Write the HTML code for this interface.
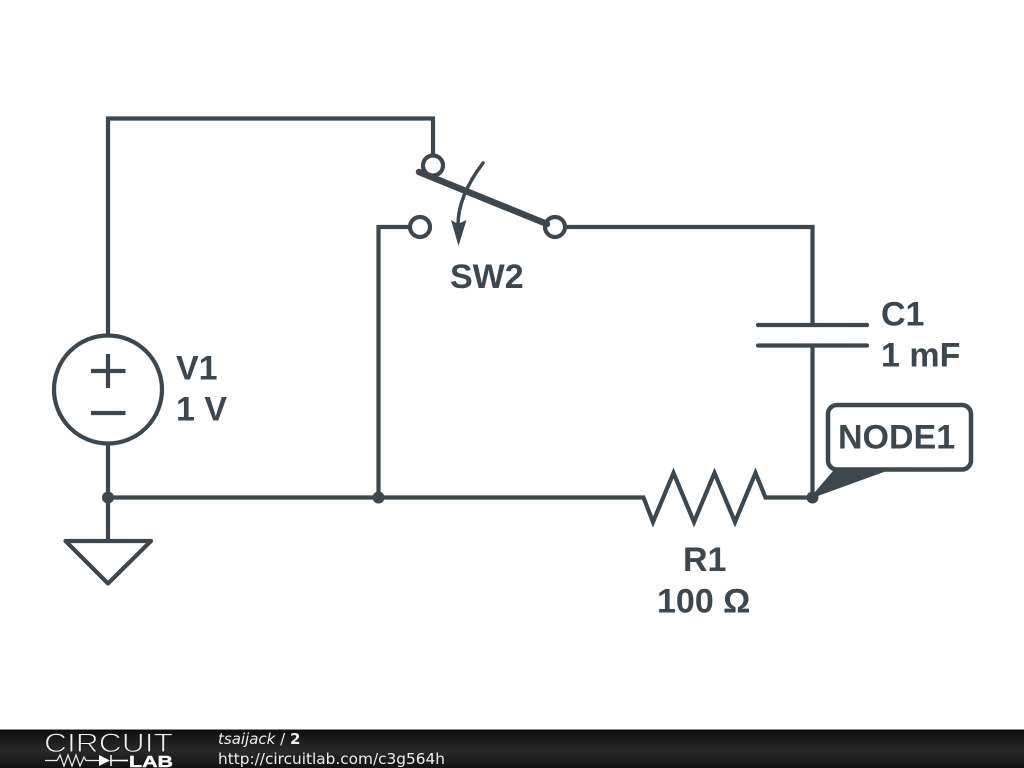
<!DOCTYPE html>
<html>
<head>
<meta charset="utf-8">
<title>Circuit diagram</title>
<style>
html,body{margin:0;padding:0;background:#fff;width:1024px;height:768px;overflow:hidden}
svg{display:block}
.w{fill:none;stroke:#3d474d;stroke-width:4.2;stroke-linejoin:miter;stroke-linecap:butt}
.t{font-family:"Liberation Sans",sans-serif;font-weight:bold;font-size:34px;fill:#3d474d}
.f{font-family:"DejaVu Sans",sans-serif;font-size:15px;fill:#eee}
</style>
</head>
<body>
<svg width="1024" height="768" viewBox="0 0 1024 768" xmlns="http://www.w3.org/2000/svg">
<defs>
<linearGradient id="bar" x1="0" y1="0" x2="0" y2="1">
<stop offset="0" stop-color="#0c0c0c"/>
<stop offset="0.55" stop-color="#2a2a2a"/>
<stop offset="1" stop-color="#111"/>
</linearGradient>
</defs>
<rect width="1024" height="768" fill="#fff"/>

<!-- wires -->
<path class="w" d="M108 335V118.500H433V155"/>
<path class="w" d="M410 227H378.500V497"/>
<path class="w" d="M565 227H812.500V325"/>
<path class="w" d="M812.500 345V497"/>
<path class="w" d="M108 444V541"/>
<path class="w" d="M108 497.500H643.500L653 522L673.500 473L694 522L714.500 473L735 522L755.500 473L765.500 497.500H812"/>

<!-- V1 -->
<circle class="w" cx="108" cy="389.500" r="54"/>
<path class="w" d="M91 371H125.500M108 354V388M91 413H125.500"/>

<!-- ground -->
<path class="w" style="stroke-linejoin:round" d="M65.500 541H151L108 583.500Z"/>

<!-- capacitor -->
<path class="w" style="stroke-linecap:round" d="M758 325H867M758 345.500H867"/>

<!-- switch -->
<circle class="w" cx="433" cy="165.500" r="10"/>
<circle class="w" cx="420" cy="227" r="10"/>
<circle class="w" cx="555" cy="227" r="10"/>
<path d="M419 172L547 224" fill="none" stroke="#3d474d" stroke-width="6.500" stroke-linecap="round"/>
<path d="M483 163Q458 196 458 225" fill="none" stroke="#3d474d" stroke-width="3.500" stroke-linecap="round"/>
<path d="M451 220L458 224L466.500 220L458.500 246Z" fill="#3d474d"/>

<!-- junctions -->
<circle cx="108" cy="497.500" r="6" fill="#3d474d"/>
<circle cx="378.500" cy="497.500" r="6" fill="#3d474d"/>
<circle cx="812.500" cy="497.500" r="6" fill="#3d474d"/>

<!-- node label -->
<path d="M812 497L836 469H889Z" fill="#3d474d" stroke="#3d474d" stroke-width="2" stroke-linejoin="round"/>
<rect x="828" y="405" width="143" height="64.500" rx="9" ry="9" fill="#fff" stroke="#3d474d" stroke-width="4.500"/>
<text class="t" x="838" y="448.500">NODE1</text>

<!-- labels -->
<text class="t" x="450" y="288">SW2</text>
<text class="t" x="176" y="379.500">V1</text>
<text class="t" x="176" y="420.500">1 V</text>
<text class="t" x="881" y="325.500">C1</text>
<text class="t" x="881" y="366.500">1 mF</text>
<text class="t" x="683" y="571">R1</text>
<text class="t" x="657" y="612.500">100 Ω</text>

<!-- footer -->
<rect x="0" y="729" width="1024" height="39" fill="url(#bar)"/>
<rect x="0" y="729" width="1024" height="1" fill="#888"/>
<text x="44" y="752" font-family="'Liberation Sans',sans-serif" font-size="26.500" fill="#f2f2f2" stroke="#1c1c1c" stroke-width="0.9" textLength="129" lengthAdjust="spacingAndGlyphs">CIRCUIT</text>
<path d="M45 760.500H57L60 755L64 766L68 755L72 766L76 755L80 766L84 757L86 760.500H99M122 760.500H128" fill="none" stroke="#eee" stroke-width="1.200"/>
<path d="M99 755V766L110 760.500Z" fill="#fff"/>
<path d="M110 760.500H128M111 755V766" fill="none" stroke="#fff" stroke-width="1.500"/>
<text x="129" y="767" font-family="'Liberation Sans',sans-serif" font-weight="bold" font-size="16" fill="#fff" stroke="#fff" stroke-width="0.4" textLength="44" lengthAdjust="spacingAndGlyphs">LAB</text>
<text class="f" x="218" y="744"><tspan font-style="italic">tsaijack</tspan> / <tspan font-weight="bold">2</tspan></text>
<text class="f" x="218" y="764" textLength="227" lengthAdjust="spacingAndGlyphs">http://circuitlab.com/c3g564h</text>
</svg>
</body>
</html>
